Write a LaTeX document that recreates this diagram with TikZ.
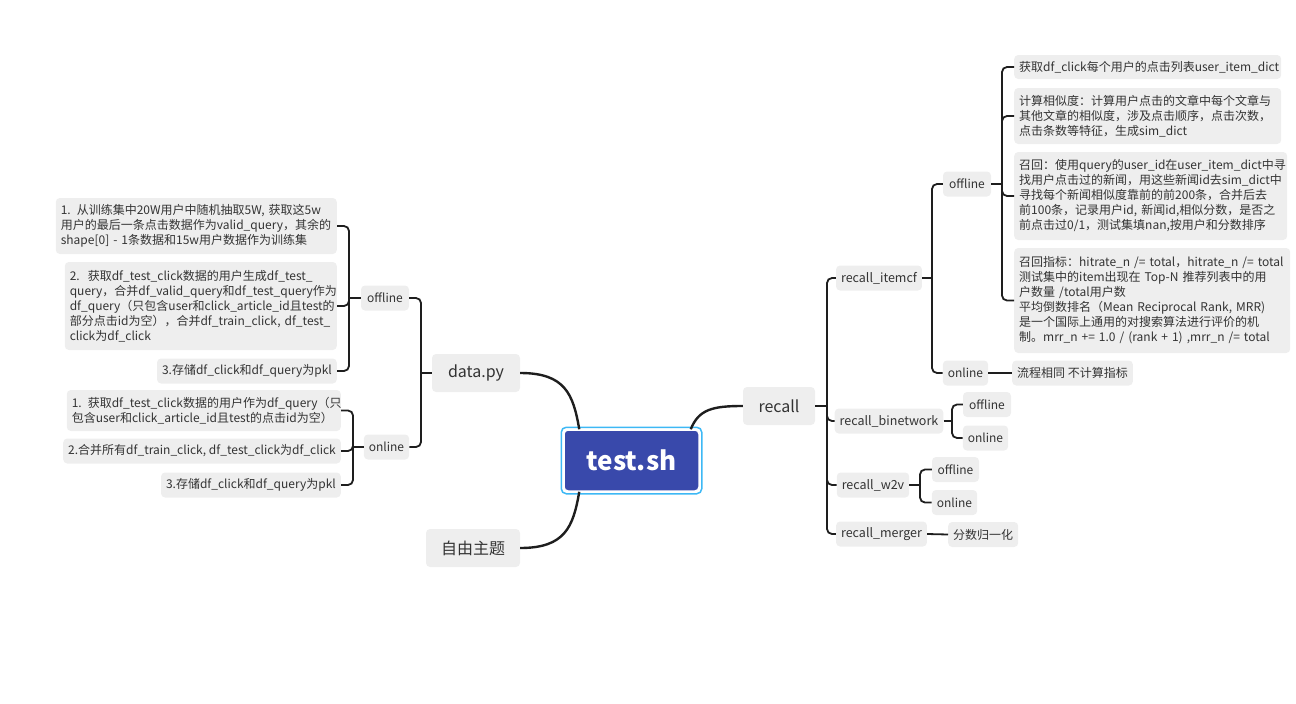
\documentclass[tikz,border=0pt]{standalone}
\usepackage{fontspec}
\setmainfont{Noto Sans CJK SC}
\usepackage{tikz}
\definecolor{boxgray}{HTML}{EEEEEE}
\definecolor{inkgray}{HTML}{333333}
\definecolor{linegray}{HTML}{1E1E1E}
\definecolor{rootblue}{HTML}{3949AB}
\definecolor{selblue}{HTML}{3DB8F5}
\hyphenpenalty=10000

\begin{document}
\begin{tikzpicture}[x=1pt, y=1pt,
  leaf/.style={fill=boxgray, text=inkgray, rounded corners=4pt, inner xsep=5pt, inner ysep=4pt, minimum height=25pt, font=\fontsize{12}{15}\selectfont, align=left},
  sub/.style={leaf, font=\fontsize{12.5}{15}\selectfont},
  main/.style={leaf, minimum height=38pt, inner xsep=14pt, font=\fontsize{16}{19}\selectfont},
  branch/.style={draw=linegray, line width=1.8pt, rounded corners=5pt},
  trunk/.style={draw=linegray, line width=2.4pt}]

   \useasboundingbox (0,0) rectangle (1296,-704);

   \node[fill=rootblue, draw=white, line width=1.5pt, rounded corners=4pt, minimum width=135pt, minimum height=61pt, text=white, font=\fontsize{26}{30}\selectfont\bfseries] (root) at (631.5,-460.5) {test.sh};
   \draw[selblue, line width=1.5pt, rounded corners=5pt] ([shift={(-2pt,2pt)}]root.north west) rectangle ([shift={(2pt,-2pt)}]root.south east);

   \node[main, minimum width=88pt] (data) at (476,-373) {data.py};
   \node[main, minimum width=94pt] (theme) at (473,-548) {自由主题};
   \node[main, minimum width=72pt] (recall) at (779,-406) {recall};

   \node[leaf, minimum width=48pt] (dofl) at (385,-298) {offline};
   \node[leaf, minimum width=45pt] (donl) at (386.5,-447) {online};

   \node[leaf, anchor=east, text width=271pt, minimum height=56pt] (dofl1) at (337,-226) {1. 从训练集中20W用户中随机抽取5W, 获取这5w\\用户的最后一条点击数据作为valid\_query，其余的\\shape[0] - 1条数据和15w用户数据作为训练集};
   \node[leaf, anchor=east, text width=262pt, minimum height=88pt] (dofl2) at (337,-306) {2.\ \ 获取df\_test\_click数据的用户生成df\_test\_\\query，合并df\_valid\_query和df\_test\_query作为\\df\_query（只包含user和click\_article\_id且test的\\部分点击id为空），合并df\_train\_click, df\_test\_\\click为df\_click};
   \node[leaf, anchor=east] (dofl3) at (337,-371) {3.存储df\_click和df\_query为pkl};
   \node[leaf, anchor=east, text width=264pt, minimum height=41pt] (donl1) at (341,-410.5) {1. 获取df\_test\_click数据的用户作为df\_query（只\\包含user和click\_article\_id且test的点击id为空）};
   \node[leaf, anchor=east] (donl2) at (341,-451) {2.合并所有df\_train\_click, df\_test\_click为df\_click};
   \node[leaf, anchor=east] (donl3) at (341,-485) {3.存储df\_click和df\_query为pkl};

   \node[sub, minimum width=82pt] (itemcf) at (879,-278) {recall\_itemcf};
   \node[sub, minimum width=102pt] (binet) at (889,-421) {recall\_binetwork};
   \node[sub, minimum width=70pt] (w2v) at (873,-485) {recall\_w2v};
   \node[sub, minimum width=87pt] (merger) at (881.5,-534) {recall\_merger};

   \node[leaf, minimum width=48pt] (iofl) at (967,-184) {offline};
   \node[leaf, minimum width=45pt] (ionl) at (965.5,-373) {online};
   \node[leaf, anchor=west] (flow) at (1012,-373) {流程相同 不计算指标};

   \node[leaf, anchor=west, text width=257pt, minimum height=24pt] (ofl1) at (1014,-67) {获取df\_click每个用户的点击列表user\_item\_dict};
   \node[leaf, anchor=west, text width=257pt, minimum height=56pt] (ofl2) at (1014,-116) {计算相似度：计算用户点击的文章中每个文章与\\其他文章的相似度，涉及点击顺序，点击次数，\\点击条数等特征，生成sim\_dict};
   \node[leaf, anchor=west, text width=263pt, minimum height=88pt] (ofl3) at (1014,-196) {召回：使用query的user\_id在user\_item\_dict中寻\\找用户点击过的新闻，用这些新闻id去sim\_dict中\\寻找每个新闻相似度靠前的前200条，合并后去\\前100条，记录用户id, 新闻id,相似分数，是否之\\前点击过0/1，测试集填nan,按用户和分数排序};
   \node[leaf, anchor=west, text width=266pt, minimum height=105pt] (ofl4) at (1014,-300.5) {召回指标：hitrate\_n /= total，hitrate\_n /= total\\测试集中的item出现在 Top-N 推荐列表中的用\\户数量 /total用户数\\平均倒数排名（Mean Reciprocal Rank, MRR)\\是一个国际上通用的对搜索算法进行评价的机\\制。mrr\_n += 1.0 / (rank + 1) ,mrr\_n /= total};

   \node[leaf, minimum width=48pt] (bofl) at (987,-404.5) {offline};
   \node[leaf, minimum width=45pt] (bonl) at (985.5,-438) {online};
   \node[leaf, minimum width=47pt] (wofl) at (955.5,-469.5) {offline};
   \node[leaf, minimum width=45pt] (wonl) at (954.5,-502.5) {online};
   \node[leaf, anchor=west] (norm) at (948,-534.5) {分数归一化};

   \draw[trunk] (data.east) .. controls +(45pt,0pt) and +(-6pt,35pt) .. ([xshift=16pt]root.north west);
   \draw[trunk] (theme.east) .. controls +(45pt,0pt) and +(-6pt,-35pt) .. ([xshift=16pt]root.south west);
   \draw[trunk] ([xshift=-9pt]root.north east) .. controls +(8pt,20pt) and +(-30pt,0pt) .. (recall.west);

   \coordinate (jd) at (421,-373);
   \draw[branch] (data.west) -- (jd);
   \draw[branch] (jd) |- (dofl.east);
   \draw[branch] (jd) |- (donl.east);

   \coordinate (jof) at (349,-298);
   \draw[branch] (dofl.west) -- (jof);
   \draw[branch] (jof) |- (dofl1.east);
   \draw[branch] (jof) |- (dofl2.east);
   \draw[branch] (jof) |- (dofl3.east);

   \coordinate (jon) at (353,-447);
   \draw[branch] (donl.west) -- (jon);
   \draw[branch] (jon) |- (donl1.east);
   \draw[branch] (jon) |- (donl2.east);
   \draw[branch] (jon) |- (donl3.east);

   \coordinate (jr) at (827,-406);
   \draw[branch] (recall.east) -- (jr);
   \draw[branch] (jr) |- (itemcf.west);
   \draw[branch] (jr) |- (binet.west);
   \draw[branch] (jr) |- (w2v.west);
   \draw[branch] (jr) |- (merger.west);

   \coordinate (ji) at (932,-278);
   \draw[branch] (itemcf.east) -- (ji);
   \draw[branch] (ji) |- (iofl.west);
   \draw[branch] (ji) |- (ionl.west);
   \draw[branch] (ionl.east) -- (flow.west);

   \coordinate (jo) at (1002,-184);
   \draw[branch] (iofl.east) -- (jo);
   \draw[branch] (jo) |- (ofl1.west);
   \draw[branch] (jo) |- (ofl2.west);
   \draw[branch] (jo) |- (ofl3.west);
   \draw[branch] (jo) |- (ofl4.west);

   \coordinate (jb) at (952,-421);
   \draw[branch] (binet.east) -- (jb);
   \draw[branch] (jb) |- (bofl.west);
   \draw[branch] (jb) |- (bonl.west);

   \coordinate (jw) at (920,-485);
   \draw[branch] (w2v.east) -- (jw);
   \draw[branch] (jw) |- (wofl.west);
   \draw[branch] (jw) |- (wonl.west);
   \draw[branch] (merger.east) -- (norm.west);

\end{tikzpicture}
\end{document}
